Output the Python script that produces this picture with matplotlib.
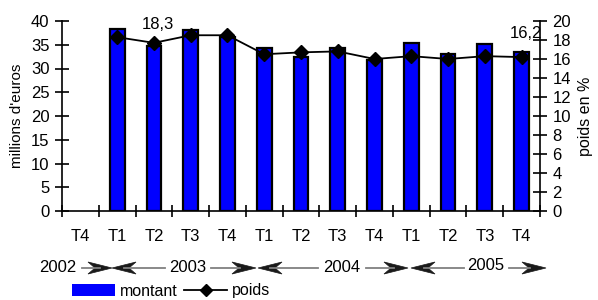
import numpy as np
import matplotlib.pyplot as plt
from matplotlib.lines import Line2D
from matplotlib.patches import Patch, Polygon

plt.rcParams['font.family'] = ['Liberation Sans', 'DejaVu Sans']
FS = 12

# Données
trimestres = ['T4', 'T1', 'T2', 'T3', 'T4', 'T1', 'T2', 'T3', 'T4', 'T1', 'T2', 'T3', 'T4']
annees = ['2002', '2003', '2004', '2005']
montant = [np.nan, 38.3, 34.7, 38.1, 36.6, 34.3, 32.4, 34.3, 31.8, 35.4, 33.0, 35.1, 33.5]
poids = [np.nan, 18.3, 17.7, 18.5, 18.5, 16.5, 16.7, 16.8, 16.0, 16.3, 16.0, 16.3, 16.2]

W, H = 598, 300
fig = plt.figure(figsize=(W / 100, H / 100), dpi=100)
ax = fig.add_axes([62 / W, 1 - 211 / H, 478 / W, 190 / H])
ax2 = ax.twinx()

x = np.arange(len(trimestres))
ax.bar(x, montant, width=0.4, color='#0000ff', edgecolor='black', linewidth=1.6, zorder=2)
ax2.plot(x, poids, color='black', linewidth=1.3, marker='D', markersize=7, zorder=3)

ax.set_xlim(-0.5, len(trimestres) - 0.5)
ax.set_ylim(0, 40)
ax2.set_ylim(0, 20)
ax.set_yticks(np.arange(0, 41, 5))
ax2.set_yticks(np.arange(0, 21, 2))
ax.set_xticks(x)
ax.set_xticklabels(trimestres, fontsize=FS)
ax.set_xticks(np.arange(-0.5, len(trimestres), 1), minor=True)
ax.tick_params(axis='x', which='major', length=0, pad=13)
ax.tick_params(axis='x', which='minor', direction='inout', length=9, width=1.2)
ax.tick_params(axis='y', direction='inout', length=10, width=1.2, labelsize=FS, pad=4)
ax2.tick_params(axis='y', direction='inout', length=10, width=1.2, labelsize=FS, pad=4)

for a in (ax, ax2):
    a.spines['top'].set_visible(False)
    for s in ['bottom', 'left', 'right']:
        a.spines[s].set_linewidth(1.2)
ax.spines['right'].set_visible(False)
ax2.spines['left'].set_visible(False)
ax2.spines['bottom'].set_visible(False)

ax.set_ylabel("millions d'euros", fontsize=11)
ax.yaxis.set_label_coords(-38 / 478, 0.5)
ax2.set_ylabel('poids en %', fontsize=11.5)
ax2.yaxis.set_label_coords(1 + 38 / 478, 0.5)

ax2.text(2.1, 18.8, '18,3', ha='center', va='bottom', fontsize=FS)
ax2.text(12.55, 17.9, '16,2', ha='right', va='bottom', fontsize=FS)


# Ligne des années avec flèches (coordonnées en pixels de la figure)
def px(xp, yp):
    return (xp / W, 1 - yp / H)


yr = 268
centres = [58, 188, 342, 486]
for nom, c in zip(annees, centres):
    dy = -2 if nom == '2005' else 0
    fig.text(*px(c, yr + dy), nom, ha='center', va='center', fontsize=FS)

shafts = [(82, 100), (124, 165), (211, 240), (270, 318), (366, 394), (424, 464), (509, 530)]
for a, b in shafts:
    fig.add_artist(Line2D([a / W, b / W], [1 - yr / H] * 2, color='#808080', linewidth=1.3))

# fleches: (pointe, sens)
tetes = [(112, 1), (112, -1), (256, 1), (258, -1), (408, 1), (411, -1), (546, 1)]
for tip, d in tetes:
    L, hw, notch = 24, 6, 7
    pts = [px(tip, yr), px(tip - d * L, yr - hw), px(tip - d * (L - notch), yr),
           px(tip - d * L, yr + hw)]
    fig.add_artist(Polygon(pts, closed=True, facecolor='#1a1a1a', edgecolor='#1a1a1a',
                           linewidth=0.5, transform=fig.transFigure))

handles = [Patch(facecolor='#0000ff', edgecolor='none'),
           Line2D([], [], color='black', marker='D', markersize=6, linewidth=1.3)]
fig.legend(handles, ['montant', 'poids'], loc='center left', bbox_to_anchor=px(72, 291),
           ncol=2, frameon=False, fontsize=11.5, handlelength=2.7, handletextpad=0.3,
           columnspacing=0.4, borderaxespad=0, borderpad=0, handleheight=0.8)

fig.savefig('out.png', dpi=100)
